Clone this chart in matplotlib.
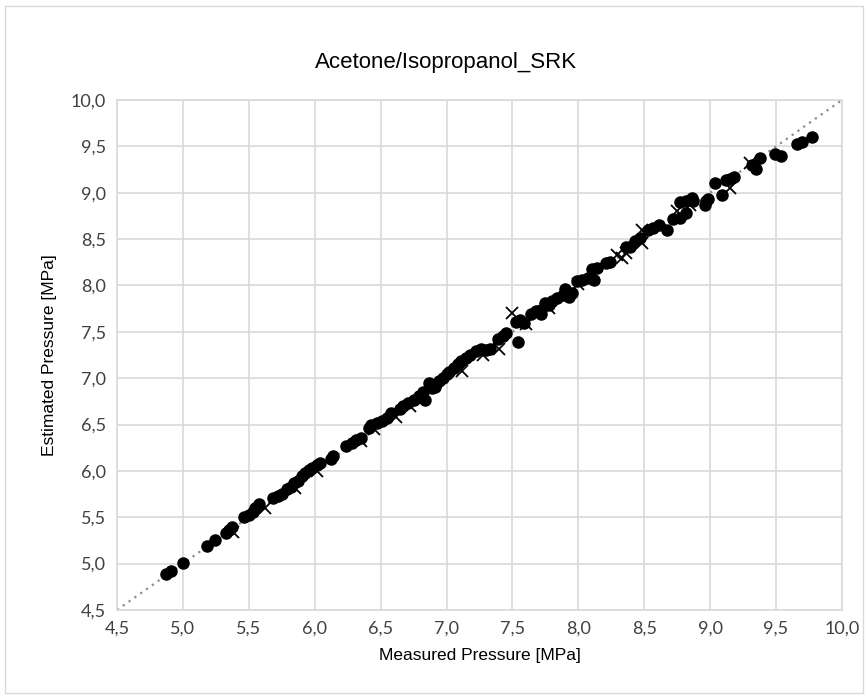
import matplotlib.pyplot as plt
from matplotlib.patches import Rectangle

# measured vs estimated pressure [MPa]
circle_x = [4.87, 4.91, 5.00, 5.18, 5.24, 5.33, 5.35, 5.37, 5.46, 5.50, 5.53, 5.55, 5.58,
            5.68, 5.72, 5.75, 5.79, 5.82, 5.84, 5.87, 5.90, 5.93, 5.96, 5.98, 6.02, 6.04,
            6.12, 6.14, 6.24, 6.28, 6.31, 6.35, 6.41, 6.43, 6.47, 6.51, 6.55, 6.58, 6.65,
            6.67, 6.71, 6.75, 6.79, 6.82, 6.84, 6.87, 6.89, 6.91, 6.94, 6.97, 7.00, 7.02,
            7.06, 7.09, 7.11, 7.15, 7.18, 7.22, 7.26, 7.30, 7.33, 7.39, 7.43, 7.45, 7.54,
            7.53, 7.56, 7.59, 7.64, 7.68, 7.72, 7.72, 7.75, 7.78, 7.80, 7.84, 7.88, 7.90,
            7.95, 7.93, 7.99, 8.03, 8.07, 8.12, 8.10, 8.14, 8.21, 8.24, 8.36, 8.39, 8.43,
            8.47, 8.53, 8.57, 8.61, 8.67, 8.72, 8.77, 8.82, 8.77, 8.82, 8.86, 8.87, 8.96,
            8.97, 8.98, 9.04, 9.09, 9.12, 9.15, 9.18, 9.32, 9.35, 9.38, 9.49, 9.54, 9.66,
            9.70, 9.77]
circle_y = [4.89, 4.92, 5.01, 5.19, 5.26, 5.33, 5.36, 5.40, 5.50, 5.52, 5.56, 5.60, 5.64,
            5.71, 5.73, 5.75, 5.80, 5.83, 5.87, 5.89, 5.94, 5.98, 6.01, 6.03, 6.06, 6.08,
            6.13, 6.16, 6.27, 6.30, 6.33, 6.35, 6.46, 6.49, 6.52, 6.54, 6.57, 6.62, 6.67,
            6.70, 6.73, 6.77, 6.81, 6.85, 6.77, 6.95, 6.89, 6.91, 6.97, 7.00, 7.04, 7.07,
            7.11, 7.15, 7.18, 7.22, 7.25, 7.29, 7.31, 7.30, 7.32, 7.42, 7.45, 7.49, 7.39,
            7.61, 7.63, 7.60, 7.69, 7.72, 7.69, 7.73, 7.81, 7.79, 7.83, 7.87, 7.90, 7.96,
            7.92, 7.88, 8.05, 8.06, 8.08, 8.06, 8.18, 8.19, 8.24, 8.25, 8.42, 8.42, 8.48,
            8.51, 8.60, 8.62, 8.65, 8.60, 8.72, 8.73, 8.78, 8.90, 8.91, 8.94, 8.91, 8.87,
            8.91, 8.93, 9.11, 8.98, 9.14, 9.15, 9.17, 9.30, 9.26, 9.37, 9.42, 9.40, 9.53,
            9.55, 9.60]

cross_x = [5.38, 5.62, 5.85, 6.02, 6.35, 6.45, 6.62, 6.72, 7.12, 7.28, 7.40, 7.50, 7.60,
           7.78, 8.00, 8.29, 8.33, 8.36, 8.48, 8.48, 8.75, 8.85, 9.15, 9.30]
cross_y = [5.34, 5.60, 5.82, 6.00, 6.32, 6.45, 6.58, 6.70, 7.08, 7.25, 7.31, 7.70, 7.58,
           7.76, 8.02, 8.33, 8.30, 8.35, 8.46, 8.60, 8.80, 8.87, 9.05, 9.32]

axis_range = [4.5, 10.0]
tick_values = [4.5, 5.0, 5.5, 6.0, 6.5, 7.0, 7.5, 8.0, 8.5, 9.0, 9.5, 10.0]
tick_labels = ["4,5", "5,0", "5,5", "6,0", "6,5", "7,0", "7,5", "8,0", "8,5", "9,0", "9,5", "10,0"]

fig = plt.figure(figsize=(8.68, 6.98), dpi=100)
fig.patches.append(Rectangle((0.006, 0.007), 0.988, 0.985, transform=fig.transFigure,
                             fill=False, edgecolor="#d9d9d9", linewidth=1))
ax = fig.add_axes([0.1348, 0.1261, 0.8352, 0.7306])

ax.plot(axis_range, axis_range, linestyle=(0, (1, 2.2)), color="#8c8c8c", linewidth=1.6, zorder=2)
ax.plot(cross_x, cross_y, linestyle="none", marker="x", markersize=9, markeredgewidth=1.3,
        color="black", zorder=3)
ax.plot(circle_x, circle_y, linestyle="none", marker="o", markersize=8, color="black", zorder=4)

ax.set_xlim(axis_range)
ax.set_ylim(axis_range)
ax.set_xticks(tick_values)
ax.set_xticklabels(tick_labels)
ax.set_yticks(tick_values)
ax.set_yticklabels(tick_labels)
ax.tick_params(length=0, labelsize=13, colors="#404040", pad=8)
for lab in ax.get_xticklabels() + ax.get_yticklabels():
    lab.set_family("Lato")
ax.grid(True, color="#d9d9d9", linewidth=1.2)
ax.set_axisbelow(True)
for sp in ax.spines.values():
    sp.set_color("#d9d9d9")
    sp.set_linewidth(1.2)

fig.text(0.514, 0.911, "Acetone/Isopropanol_SRK", family="Liberation Sans", fontsize=16,
         color="black", ha="center", va="center")
ax.set_xlabel("Measured Pressure [MPa]", family="Liberation Sans", fontsize=12.5, labelpad=8)
ax.set_ylabel("Estimated Pressure [MPa]", family="Liberation Sans", fontsize=12.5, labelpad=10)

fig.savefig("out.png", dpi=100)
